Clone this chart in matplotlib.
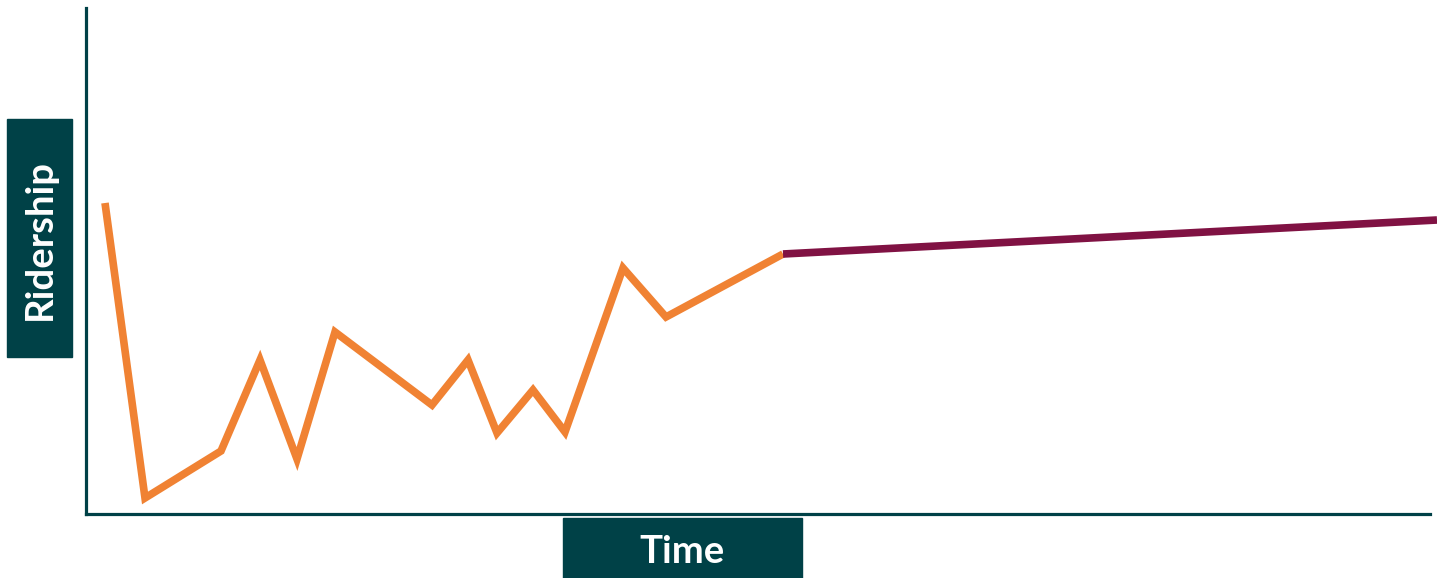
import matplotlib
matplotlib.use("Agg")
import matplotlib.pyplot as plt

# Data (arbitrary units)
time_hist = [19, 59, 135, 174, 211, 249, 346, 382, 411, 447, 479, 537, 580, 697]
ridership_hist = [311, 16, 63, 154, 55, 182, 109, 154, 81, 124, 82, 246, 197, 260]
time_proj = [697, 1351]
ridership_proj = [260, 294]

ORANGE = "#F08233"
PURPLE = "#801243"
TEAL = "#004147"

W, H = 1437, 578
fig = plt.figure(figsize=(W / 100, H / 100), dpi=100)
left, right, top, bottom = 86, 1430, 8, 514
ax = fig.add_axes([left / W, (H - bottom) / H, (right - left) / W, (bottom - top) / H])

ax.plot(time_hist, ridership_hist, color=ORANGE, lw=5.5, solid_joinstyle="miter",
        solid_capstyle="butt", clip_on=False, zorder=3)
ax.plot(time_proj, ridership_proj, color=PURPLE, lw=5.5, solid_capstyle="butt",
        clip_on=False, zorder=3)

ax.set_xlim(0, 1344)
ax.set_ylim(0, 506)
for s in ["top", "right"]:
    ax.spines[s].set_visible(False)
for s in ["left", "bottom"]:
    ax.spines[s].set_color(TEAL)
    ax.spines[s].set_linewidth(2.3)
ax.set_xticks([])
ax.set_yticks([])

font = ["Lato", "DejaVu Sans"]
# Ridership box
fig.patches.append(plt.Rectangle((7 / W, (H - 357) / H), 65 / W, 238 / H,
                                 transform=fig.transFigure, color=TEAL, zorder=0))
fig.text(40 / W, (H - 239) / H, "Ridership", rotation=90, ha="center", va="center",
         color="white", fontsize=27.5, fontweight="bold", family=font)
# Time box
fig.patches.append(plt.Rectangle((563 / W, 0), 239 / W, 60 / H,
                                 transform=fig.transFigure, color=TEAL, zorder=0))
fig.text(682.5 / W, 26 / H, "Time", ha="center", va="center",
         color="white", fontsize=27.5, fontweight="bold", family=font)

fig.savefig("out.png", dpi=100)
